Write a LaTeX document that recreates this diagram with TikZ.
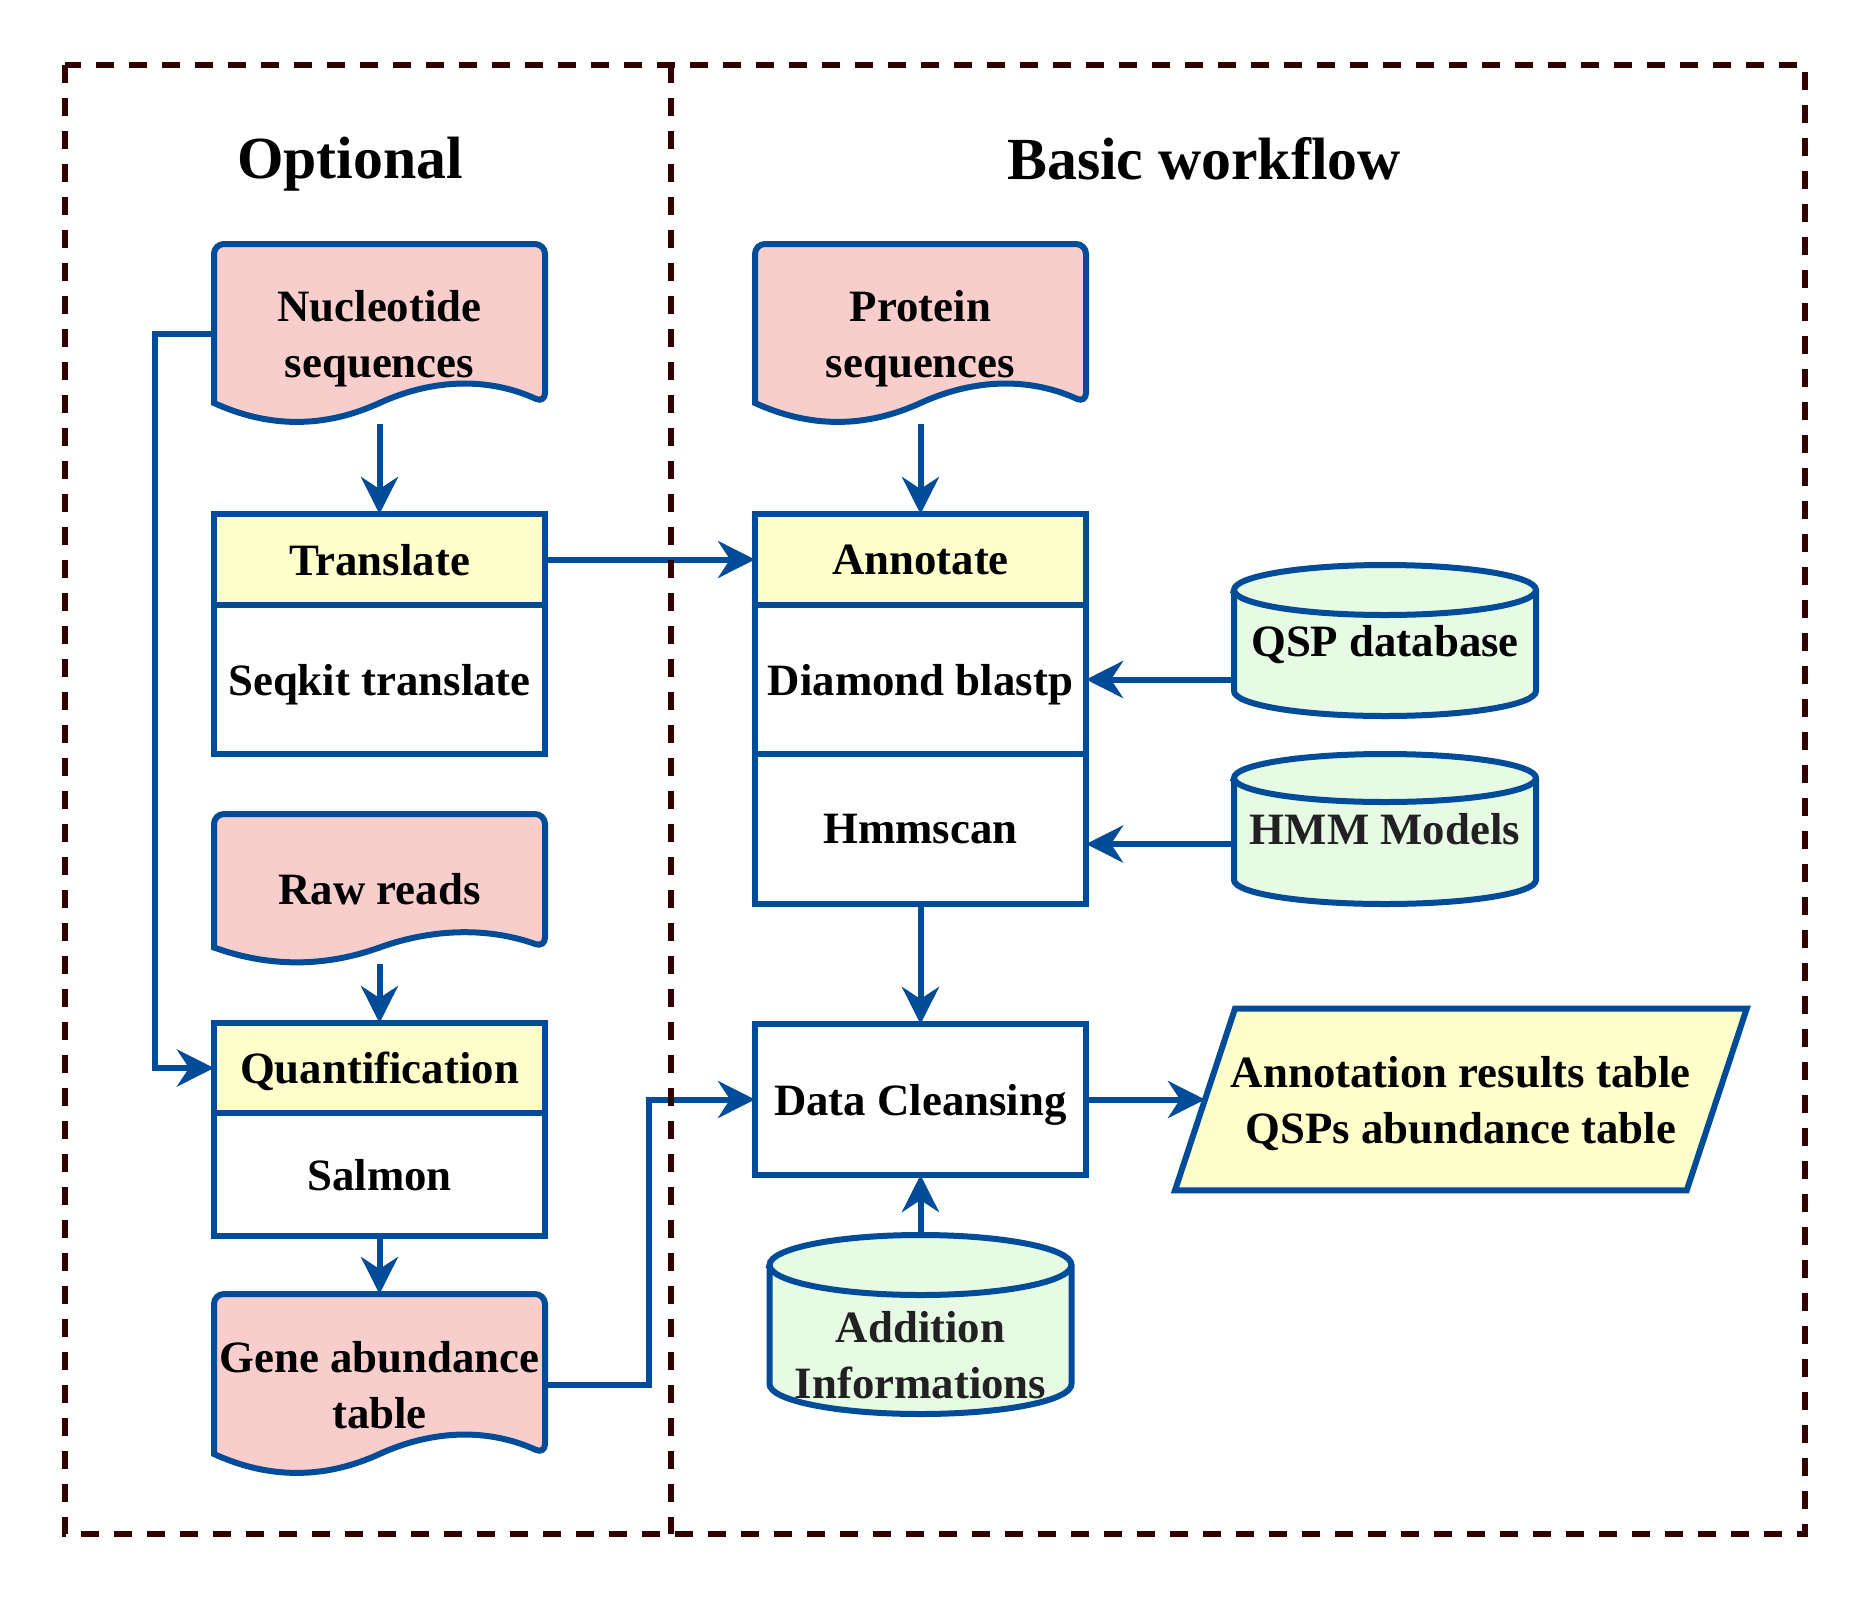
\documentclass[tikz,border=0pt]{standalone}
\usepackage{fontspec}
\setmainfont{Liberation Serif}
\usepackage{tikz}
\usetikzlibrary{positioning,arrows.meta,calc,backgrounds}
\definecolor{lineblue}{HTML}{004C99}
\definecolor{docpink}{HTML}{F8CECC}
\definecolor{headyellow}{HTML}{FFFFCC}
\definecolor{dbgreen}{HTML}{E6FAE4}
\definecolor{framered}{HTML}{330000}
\tikzstyle{headbox} = [rectangle,draw=lineblue,line width=0.12cm,fill=headyellow,minimum width=6.62cm,minimum height=1.82cm,outer sep=0pt,inner sep=0pt,text centered]
\tikzstyle{stepbox} = [rectangle,draw=lineblue,line width=0.12cm,fill=white,minimum width=6.62cm,outer sep=0pt,inner sep=0pt,text centered]
\tikzstyle{docnode} = [rectangle,minimum width=6.62cm,align=center,outer sep=0pt,inner sep=0pt]
\tikzstyle{dbnode} = [rectangle,minimum width=6.04cm,align=center,outer sep=0pt,inner sep=0pt,text=black!87]
\tikzstyle{docline} = [draw=lineblue,line width=0.12cm,fill=docpink]
\tikzstyle{dbline} = [draw=lineblue,line width=0.12cm,fill=dbgreen]
\tikzstyle{outline} = [draw=lineblue,line width=0.12cm,fill=headyellow]
\tikzstyle{arrow} = [draw=lineblue,line width=0.12cm,-{Stealth[length=0.74cm,width=0.74cm,inset=0.24cm]}]
\tikzstyle{frame} = [draw=framered,line width=0.12cm,dash pattern=on 0.36cm off 0.3cm]
% wavy document outline round a node (#2 = wave depth in cm)
\newcommand{\docshape}[2]{%
  \begin{pgfonlayer}{background}
  \path[docline] ([yshift={0.5*#2*1cm}]#1.south west) [rounded corners=0.2cm] -- (#1.north west) -- (#1.north east) -- ([yshift={0.5*#2*1cm}]#1.south east) [sharp corners]
    .. controls ($(#1.south west)!0.8333!(#1.south east)+(0,{1.1*#2})$) and ($(#1.south west)!0.6667!(#1.south east)+(0,{1.1*#2})$) .. ([yshift={0.5*#2*1cm}]#1.south)
    .. controls ($(#1.south west)!0.3333!(#1.south east)+(0,{-0.1*#2})$) and ($(#1.south west)!0.1667!(#1.south east)+(0,{-0.1*#2})$) .. ([yshift={0.5*#2*1cm}]#1.south west) -- cycle;
  \end{pgfonlayer}}
% database cylinder round a node (#2 = cap above node, #3 = ellipse radius, in cm)
\newcommand{\dbcyl}[3]{%
  \coordinate (#1-top) at ([yshift={#2*1cm}]#1.north);
  \begin{pgfonlayer}{background}
  \path[dbline] ([yshift={(#2-#3)*1cm}]#1.north west) -- ([yshift={#3*1cm}]#1.south west) arc[start angle=180,end angle=360,x radius=3.02cm,y radius={#3*1cm}] -- ([yshift={(#2-#3)*1cm}]#1.north east) arc[start angle=0,end angle=180,x radius=3.02cm,y radius={#3*1cm}] -- cycle;
  \draw[dbline,fill=none] ([yshift={(#2-#3)*1cm}]#1.north west) arc[start angle=180,end angle=360,x radius=3.02cm,y radius={#3*1cm}];
  \end{pgfonlayer}}

\begin{document}
\begin{tikzpicture}
\tikzstyle{every node}=[font=\fontsize{25.5}{31.8}\selectfont\bfseries,text depth=0pt]
\useasboundingbox (0,0) rectangle (37.32,-31.98);

\node (optional) [font=\fontsize{34}{40}\selectfont\bfseries] at (7.0,-3.16) {Optional};
\node (basic) [font=\fontsize{34}{40}\selectfont\bfseries] at (24.08,-3.16) {Basic workflow};

% optional column
\node (nucl)   [docnode,minimum height=3.6cm] at (7.59,-6.68) {Nucleotide\\sequences};
\node (transl) [headbox,below=1.8cm of nucl] {Translate};
\node (seqkit) [stepbox,minimum height=2.98cm,below=0cm of transl] {Seqkit translate};
\node (raw)    [docnode,minimum height=3.0cm,below=1.2cm of seqkit] {Raw reads};
\node (quant)  [headbox,minimum height=1.8cm,below=1.18cm of raw] {Quantification};
\node (salmon) [stepbox,minimum height=2.46cm,below=0cm of quant] {Salmon};
\node (gene)   [docnode,minimum height=3.62cm,below=1.16cm of salmon] {Gene abundance\\table};

% basic workflow column
\node (prot)    [docnode,minimum height=3.6cm,right=4.2cm of nucl] {Protein\\sequences};
\node (annot)   [headbox,below=1.8cm of prot] {Annotate};
\node (diamond) [stepbox,minimum height=2.98cm,below=0cm of annot] {Diamond blastp};
\node (hmmscan) [stepbox,minimum height=3.0cm,below=0cm of diamond] {Hmmscan};
\node (clean)   [stepbox,minimum height=3.02cm,below=2.4cm of hmmscan] {Data Cleansing};
\node (adddb)   [dbnode,minimum height=2.38cm,below=2.4cm of clean] {Addition\\Informations};
\node (qspdb)   [dbnode,minimum height=3.02cm,right=2.96cm of diamond,yshift=0.78cm,text=black] {QSP database};
\node (hmmdb)   [dbnode,minimum height=3.0cm,right=2.96cm of hmmscan] {HMM Models};
\node (results) [rectangle,minimum width=10.22cm,minimum height=3.62cm,align=center,inner sep=0pt,right=2.38cm of clean] {Annotation results table\\QSPs abundance table};

\docshape{nucl}{0.84}
\docshape{prot}{0.84}
\docshape{raw}{0.66}
\docshape{gene}{0.84}
\dbcyl{qspdb}{0}{0.5}
\dbcyl{hmmdb}{0}{0.48}
\dbcyl{adddb}{1.2}{0.6}
\begin{pgfonlayer}{background}
\path[outline] ([xshift=0.6cm]results.north west) -- ([xshift=0.6cm]results.north east) -- ([xshift=-0.6cm]results.south east) -- ([xshift=-0.6cm]results.south west) -- cycle;
\end{pgfonlayer}

\draw[arrow] (nucl.south) -- (transl.north);
\draw[arrow] (prot.south) -- (annot.north);
\draw[arrow] (transl.east) -- (annot.west);
\draw[arrow] (nucl.west) -- ++(-1.18cm,0) |- (quant.west);
\draw[arrow] (raw.south) -- (quant.north);
\draw[arrow] (salmon.south) -- (gene.north);
\draw[arrow] (gene.east) -- ++(2.08cm,0) |- (clean.west);
\draw[arrow] (hmmscan.south) -- (clean.north);
\draw[arrow] (adddb-top) -- (clean.south);
\draw[arrow] (clean.east) -- (results.west);
\draw[arrow] (diamond.east -| qspdb.west) -- (diamond.east);
\draw[arrow] ($(hmmscan.east -| hmmdb.west)+(0,-0.3)$) -- ($(hmmscan.east)+(0,-0.3)$);

% dashed frames
\draw[frame] (1.3,-1.3) rectangle (36.1,-30.68);
\draw[frame] (13.42,-1.3) -- (13.42,-30.68);
\end{tikzpicture}
\end{document}
